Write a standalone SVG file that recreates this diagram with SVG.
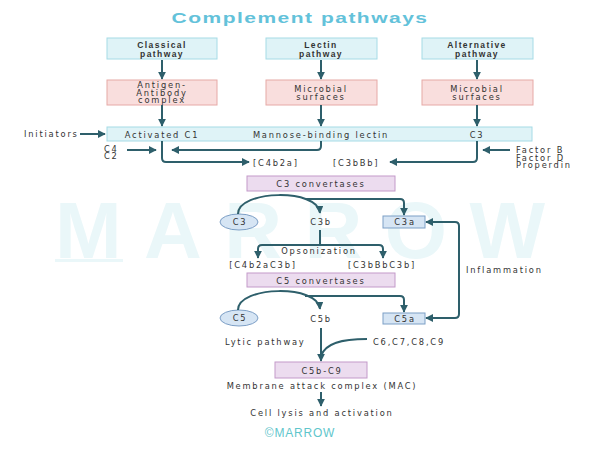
<svg xmlns="http://www.w3.org/2000/svg" width="600" height="451" viewBox="0 0 600 451">
<style>
text{font-family:"DejaVu Sans","Liberation Sans",Arial,sans-serif;fill:#333;}
.t{font-size:8.3px;letter-spacing:1.8px;}
.m{text-anchor:middle;}
.b{font-family:"Liberation Sans",Arial,sans-serif;font-weight:bold;font-size:8.5px;letter-spacing:1.4px;}
.blue{fill:#dff3f7;stroke:#a6dbe6;stroke-width:1;}
.pink{fill:#f9dedd;stroke:#e6a9a6;stroke-width:1;}
.lav{fill:#ecdcef;stroke:#c39ac9;stroke-width:1;}
.lb{fill:#d6e5f4;stroke:#7d9fc6;stroke-width:1;}
.ln{fill:none;stroke:#2e5f6b;stroke-width:2;}
</style>
<defs>
<marker id="ah" viewBox="0 0 10 10" refX="9" refY="5" markerWidth="8" markerHeight="8" markerUnits="userSpaceOnUse" orient="auto-start-reverse">
<path d="M0,0 L10,5 L0,10 z" fill="#2e5f6b"/>
</marker>
</defs>
<rect width="600" height="451" fill="#ffffff"/>
<g id="watermark">
<text x="300" y="258" text-anchor="middle" font-size="80" font-weight="bold" textLength="490" lengthAdjust="spacing" style="font-family:'Liberation Sans',Arial,sans-serif;fill:#eaf7f9;letter-spacing:0">MARROW</text>
<rect x="55" y="259" width="68" height="3" fill="#eaf7f9"/>
</g>
<g transform="translate(300,23) scale(1.5,1)"><text x="0" y="0" class="m" font-size="14" font-weight="bold" style="font-family:'Liberation Sans',Arial,sans-serif;fill:#63c2da;letter-spacing:1px">Complement pathways</text></g>

<g id="classical"><rect class="blue" x="107" y="38" width="110" height="21"/><text class="b m" x="162" y="48">Classical</text><text class="b m" x="162" y="57">pathway</text></g>
<g id="lectin"><rect class="blue" x="266" y="38" width="111" height="21"/><text class="b m" x="321" y="48">Lectin</text><text class="b m" x="321" y="57">pathway</text></g>
<g id="alternative"><rect class="blue" x="422" y="38" width="111" height="21"/><text class="b m" x="477" y="48">Alternative</text><text class="b m" x="477" y="57">pathway</text></g>

<g id="agab"><rect class="pink" x="107" y="80" width="110" height="25"/><text class="t m" x="162" y="88">Antigen-</text><text class="t m" x="162" y="95.5">Antibody</text><text class="t m" x="162" y="103">complex</text></g>
<g id="micro1"><rect class="pink" x="266" y="80" width="111" height="25"/><text class="t m" x="321" y="91.5">Microbial</text><text class="t m" x="321" y="99.5">surfaces</text></g>
<g id="micro2"><rect class="pink" x="422" y="80" width="111" height="25"/><text class="t m" x="477" y="91.5">Microbial</text><text class="t m" x="477" y="99.5">surfaces</text></g>

<g id="activation"><rect class="blue" x="107" y="127" width="425" height="14"/><text class="t m" x="162" y="137.5">Activated C1</text><text class="t m" x="321" y="137.5">Mannose-binding lectin</text><text class="t m" x="477" y="137.5">C3</text></g>

<g id="labels1">
<text class="t" x="24" y="137">Initiators</text>
<text class="t" x="104" y="152">C4</text><text class="t" x="104" y="159">C2</text>
<text class="t" x="253" y="165.5">[C4b2a]</text>
<text class="t" x="333" y="165.5">[C3bBb]</text>
<text class="t" x="516" y="153">Factor B</text><text class="t" x="516" y="160.5">Factor D</text><text class="t" x="516" y="168">Properdin</text>
</g>

<g id="c3conv"><rect class="lav" x="247" y="176" width="148" height="15"/><text class="t m" x="321" y="186.5">C3 convertases</text></g>
<g id="c3"><ellipse class="lb" cx="239" cy="222" rx="19" ry="8"/><text class="t m" x="240" y="225">C3</text></g>
<g id="c3b"><text class="t m" x="321" y="225">C3b</text></g>
<g id="c3a"><rect class="lb" x="383" y="216" width="42" height="12"/><text class="t m" x="405" y="225">C3a</text></g>
<g id="opso"><text class="t m" x="319" y="254">Opsonization</text>
<text class="t m" x="263" y="268">[C4b2aC3b]</text><text class="t m" x="382" y="268">[C3bBbC3b]</text></g>
<g id="inflam"><text class="t" x="466" y="273">Inflammation</text></g>

<g id="c5conv"><rect class="lav" x="247" y="273" width="148" height="14"/><text class="t m" x="321" y="283.5">C5 convertases</text></g>
<g id="c5"><ellipse class="lb" cx="239" cy="318" rx="19" ry="8"/><text class="t m" x="240" y="321">C5</text></g>
<g id="c5b"><text class="t m" x="321" y="322">C5b</text></g>
<g id="c5a"><rect class="lb" x="383" y="313" width="42" height="11"/><text class="t m" x="405" y="321.5">C5a</text></g>
<g id="lytic"><text class="t" x="225" y="345">Lytic pathway</text><text class="t" x="373" y="345">C6,C7,C8,C9</text></g>
<g id="mac"><rect class="lav" x="275" y="362" width="92" height="16"/><text class="t m" x="322" y="373.5">C5b-C9</text>
<text class="t m" x="322" y="389">Membrane attack complex (MAC)</text></g>
<g id="lysis"><text class="t m" x="322" y="416">Cell lysis and activation</text></g>
<text x="300" y="437" text-anchor="middle" font-size="12" style="font-family:'Liberation Sans',Arial,sans-serif;fill:#5fc6cc;letter-spacing:0.8px">©MARROW</text>

<g id="connectors">
<path class="ln" d="M162,60 V79" marker-end="url(#ah)"/>
<path class="ln" d="M321,60 V79" marker-end="url(#ah)"/>
<path class="ln" d="M477,60 V79" marker-end="url(#ah)"/>
<path class="ln" d="M162,105 V126" marker-end="url(#ah)"/>
<path class="ln" d="M321,105 V126" marker-end="url(#ah)"/>
<path class="ln" d="M477,105 V126" marker-end="url(#ah)"/>
<path class="ln" d="M80,134 H105" stroke-width="1.5" marker-end="url(#ah)"/>
<path class="ln" d="M162,141 V158 Q162,162 166,162 H249" marker-end="url(#ah)"/>
<path class="ln" d="M127,150 H156" stroke-width="1.5" marker-end="url(#ah)"/>
<path class="ln" d="M321,141 V146 Q321,150 317,150 H172" marker-end="url(#ah)"/>
<path class="ln" d="M477,141 V158 Q477,162 473,162 H390" marker-end="url(#ah)"/>
<path class="ln" d="M510,150 H483" stroke-width="1.5" marker-end="url(#ah)"/>
<path class="ln" d="M238,214 C238,190 318,188 320,213" marker-end="url(#ah)"/>
<path class="ln" d="M305,199 H400 Q404,199 404,203 V215" marker-end="url(#ah)"/>
<path class="ln" d="M320,230 V245"/>
<path class="ln" d="M320,245 H262 Q258,245 258,249 V258" marker-end="url(#ah)"/>
<path class="ln" d="M320,245 H379 Q383,245 383,249 V258" marker-end="url(#ah)"/>
<path class="ln" d="M426,222 H455 Q459,222 459,226 V314 Q459,318 455,318 H426" marker-start="url(#ah)" marker-end="url(#ah)"/>
<path class="ln" d="M238,310 C238,286 318,284 320,309" marker-end="url(#ah)"/>
<path class="ln" d="M305,296 H400 Q404,296 404,300 V312" marker-end="url(#ah)"/>
<path class="ln" d="M321,328 V361" marker-end="url(#ah)"/>
<path class="ln" d="M367,339 C342,339 325,343 321,356"/>
<path class="ln" d="M321,392 V406" marker-end="url(#ah)"/>
</g>
</svg>
